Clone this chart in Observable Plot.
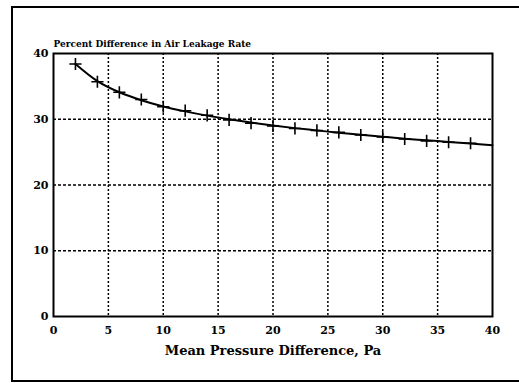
<!DOCTYPE html>
<html>
<head>
<meta charset="utf-8">
<script src="https://cdn.jsdelivr.net/npm/d3@7"></script>
<script src="https://cdn.jsdelivr.net/npm/@observablehq/plot@0.6"></script>
<style>
  html, body { margin: 0; padding: 0; background: #fff; overflow: hidden; }
  #wrap { position: relative; width: 519px; height: 383px; overflow: hidden; }
  .rule { position: absolute; background: #000; }
  #ruleTop { left: 11px; top: 6px; width: 508px; height: 2px; }
  #ruleBottom { left: 11px; top: 380px; width: 508px; height: 2px; }
  #ruleLeft { left: 11px; top: 6px; width: 2px; height: 376px; }
  #chart { position: absolute; left: 0; top: 0; }
</style>
</head>
<body>
<div id="wrap">
  <div class="rule" id="ruleTop"></div>
  <div class="rule" id="ruleBottom"></div>
  <div class="rule" id="ruleLeft"></div>
  <div id="chart"></div>
</div>
<script>
const title = "Percent Difference in Air Leakage Rate";
const xLabel = "Mean Pressure Difference, Pa";
const xTicks = [0, 5, 10, 15, 20, 25, 30, 35, 40];
const yTicks = [0, 10, 20, 30, 40];

// measured points (crosses)
const pressure = [2, 4, 6, 8, 10, 12, 14, 16, 18, 20, 22, 24, 26, 28, 30, 32, 34, 36, 38];
const percentDiff = [38.4, 35.7, 34.1, 33.0, 31.9, 31.3, 30.6, 29.9, 29.4, 29.0, 28.6, 28.3, 28.0, 27.6, 27.3, 27.0, 26.7, 26.5, 26.35];

// fitted curve
const curveX = [2, 4, 6, 8, 10, 12, 14, 16, 18, 20, 22, 24, 26, 28, 30, 32, 34, 36, 38, 40];
const curveY = [38.4, 35.8, 34.1, 32.9, 31.95, 31.2, 30.55, 30.0, 29.5, 29.05, 28.65, 28.3, 27.95, 27.65, 27.35, 27.05, 26.8, 26.55, 26.3, 26.05];

const pts = pressure.map((x, i) => ({x, y: percentDiff[i]}));
const curve = curveX.map((x, i) => ({x, y: curveY[i]}));

const font = "'DejaVu Serif', serif";

const chart = Plot.plot({
  width: 519,
  height: 383,
  marginLeft: 53,
  marginRight: 27,
  marginTop: 53,
  marginBottom: 67,
  style: { fontFamily: font, fontSize: "11px", fontWeight: "bold", background: "transparent", color: "#000" },
  x: { domain: [0, 40], ticks: xTicks, tickSize: 0, tickPadding: 10, label: null },
  y: { domain: [0, 40], ticks: yTicks, tickSize: 0, tickPadding: 5, label: null },
  marks: [
    Plot.gridX(xTicks.filter(d => d > 0 && d < 40), { stroke: "#000", strokeOpacity: 1, strokeWidth: 1.5, strokeDasharray: "2,2" }),
    Plot.gridY(yTicks.filter(d => d > 0 && d < 40), { stroke: "#000", strokeOpacity: 1, strokeWidth: 1.5, strokeDasharray: "3,2" }),
    Plot.frame({ stroke: "#000", strokeWidth: 2 }),
    Plot.line(curve, { x: "x", y: "y", curve: "catmull-rom", stroke: "#000", strokeWidth: 2 }),
    Plot.dot(pts, { x: "x", y: "y", symbol: "plus", r: 4, stroke: "#000", strokeWidth: 1.6 }),
    Plot.text([title], { frameAnchor: "top-left", text: d => d, dy: -7, lineAnchor: "bottom", textAnchor: "start", fontSize: 9, fontWeight: "bold", fontFamily: font }),
    Plot.text([xLabel], { frameAnchor: "bottom", text: d => d, dy: 38, lineAnchor: "bottom", fontSize: 13, fontWeight: "bold", fontFamily: font })
  ]
});
document.getElementById("chart").appendChild(chart);
</script>
</body>
</html>
